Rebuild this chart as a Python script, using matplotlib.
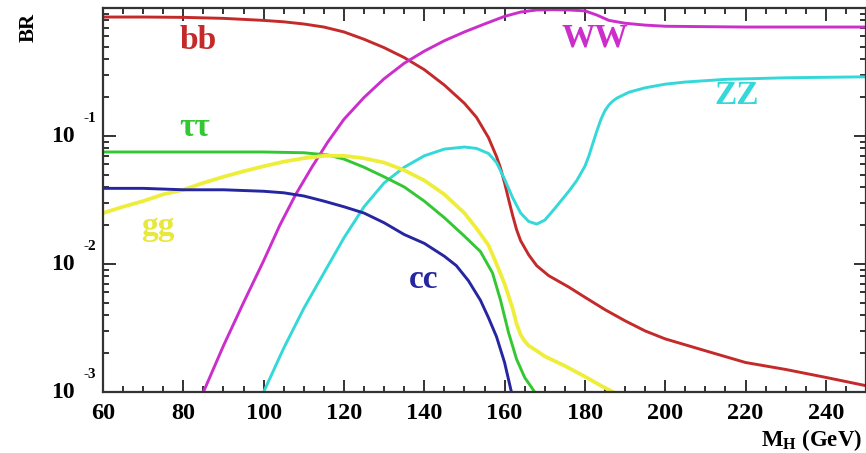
import matplotlib
matplotlib.use("Agg")
import matplotlib.pyplot as plt
from matplotlib.ticker import FixedLocator, LogLocator, MultipleLocator, NullFormatter
from matplotlib.transforms import offset_copy

# Higgs branching ratios (mass in GeV, BR)
bb_m = [60, 70, 80, 90, 100, 105, 110, 115, 120, 125, 130, 135, 140, 145, 150, 153, 156, 158,
        159, 160, 161, 162, 163, 164, 166, 168, 171, 176, 180, 185, 190, 195, 200, 210, 220,
        230, 240, 250]
bb_br = [0.85, 0.85, 0.845, 0.83, 0.80, 0.78, 0.75, 0.71, 0.65, 0.57, 0.49, 0.41, 0.33, 0.25,
         0.18, 0.14, 0.097, 0.069, 0.056, 0.043, 0.032, 0.024, 0.0185, 0.0152, 0.0118, 0.0097,
         0.0081, 0.0066, 0.0055, 0.0044, 0.0036, 0.0030, 0.0026, 0.0021, 0.0017, 0.0015,
         0.0013, 0.00112]

ww_m = [85, 90, 95, 100, 104, 108, 112, 116, 120, 125, 130, 135, 140, 145, 150, 155, 160, 164,
        168, 172, 176, 180, 183, 186, 190, 195, 200, 220, 250]
ww_br = [0.001, 0.0023, 0.0050, 0.0106, 0.020, 0.035, 0.057, 0.090, 0.135, 0.20, 0.28, 0.37,
         0.46, 0.555, 0.65, 0.75, 0.86, 0.93, 0.965, 0.97, 0.965, 0.95, 0.88, 0.80, 0.76, 0.735,
         0.72, 0.71, 0.71]

zz_m = [100, 105, 110, 115, 120, 125, 130, 135, 140, 145, 150, 153, 156, 158, 160, 162, 164, 166,
        168, 170, 172, 174, 176, 178, 180, 181, 182, 183, 184, 185, 186, 187, 188, 191, 195, 200,
        205, 215, 230, 250]
zz_br = [0.001, 0.0022, 0.0045, 0.0085, 0.016, 0.028, 0.043, 0.057, 0.070, 0.079, 0.082, 0.080,
         0.073, 0.062, 0.046, 0.033, 0.025, 0.0215, 0.0205, 0.022, 0.026, 0.031, 0.037, 0.045,
         0.058, 0.070, 0.088, 0.11, 0.135, 0.158, 0.175, 0.188, 0.198, 0.22, 0.238, 0.254,
         0.264, 0.277, 0.285, 0.29]

tt_m = [60, 80, 100, 110, 116, 120, 125, 130, 135, 140, 145, 150, 154, 157, 159, 161, 163, 165, 167.5]
tt_br = [0.075, 0.075, 0.075, 0.074, 0.071, 0.066, 0.057, 0.048, 0.040, 0.031, 0.023, 0.0165,
         0.0125, 0.0085, 0.0052, 0.0029, 0.0018, 0.0013, 0.0010]

gg_m = [60, 65, 70, 75, 80, 85, 90, 95, 100, 105, 110, 115, 120, 125, 130, 135, 140, 145, 150,
        153, 156, 158, 160, 162, 163, 164, 165, 166, 168, 170, 175, 180, 184, 187]
gg_br = [0.025, 0.028, 0.031, 0.035, 0.038, 0.043, 0.048, 0.053, 0.058, 0.063, 0.067, 0.070,
         0.070, 0.067, 0.062, 0.054, 0.045, 0.035, 0.025, 0.019, 0.014, 0.010, 0.0070, 0.0045,
         0.0034, 0.0028, 0.0025, 0.0023, 0.0021, 0.0019, 0.0016, 0.00132, 0.00112, 0.0010]

cc_m = [60, 70, 80, 90, 100, 105, 110, 115, 120, 125, 130, 135, 140, 145, 148, 151, 154, 156,
        158, 160, 161.7]
cc_br = [0.039, 0.039, 0.038, 0.038, 0.037, 0.036, 0.034, 0.031, 0.028, 0.025, 0.021, 0.017,
         0.0145, 0.0115, 0.0097, 0.0074, 0.0052, 0.0038, 0.0027, 0.0017, 0.0010]

ytick_vals = [1e-3, 1e-2, 1e-1]
ytick_exps = ["-3", "-2", "-1"]

plt.rcParams["font.family"] = ["Liberation Serif", "DejaVu Serif"]
plt.rcParams["font.weight"] = "bold"
plt.rcParams["mathtext.fontset"] = "custom"
plt.rcParams["mathtext.rm"] = "Liberation Serif:bold"
plt.rcParams["mathtext.bf"] = "Liberation Serif:bold"
plt.rcParams["mathtext.it"] = "Liberation Serif:bold:italic"

fig = plt.figure(figsize=(8.66, 4.53), dpi=100)
ax = fig.add_axes([103 / 866, 61 / 453, 1 - 103 / 866, 384 / 453])

lw = 2.1
ax.plot(bb_m, bb_br, color="#c42a2a", lw=lw)
ax.plot(ww_m, ww_br, color="#cc2ecc", lw=lw)
ax.plot(zz_m, zz_br, color="#35d8d8", lw=lw)
ax.plot(tt_m, tt_br, color="#33c833", lw=lw)
ax.plot(gg_m, gg_br, color="#eeee3a", lw=lw + 0.6)
ax.plot(cc_m, cc_br, color="#2626a0", lw=lw)

ax.set_yscale("log")
ax.set_xlim(60, 250)
ax.set_ylim(1e-3, 1)

ax.xaxis.set_major_locator(MultipleLocator(20))
ax.xaxis.set_minor_locator(MultipleLocator(5))
ax.yaxis.set_major_locator(FixedLocator(ytick_vals + [1.0]))
ax.yaxis.set_major_formatter(NullFormatter())
ax.yaxis.set_minor_locator(LogLocator(base=10, subs=range(2, 10)))
ax.yaxis.set_minor_formatter(NullFormatter())

ax.tick_params(which="both", direction="in", top=True, right=True, width=1.4, color="#333333")
ax.tick_params(which="major", length=9)
ax.tick_params(which="minor", length=4.5)
ax.tick_params(axis="x", labelsize=17.5, pad=8)
for lab in ax.get_xticklabels():
    lab.set_fontweight("bold")
for sp in ax.spines.values():
    sp.set_linewidth(1.6)
    sp.set_color("#333333")

# y tick labels drawn as "10" with a raised exponent
ytr = ax.get_yaxis_transform()
base_tr = offset_copy(ytr, fig=fig, x=-28, y=0, units="dots")
exp_tr = offset_copy(ytr, fig=fig, x=-20, y=18, units="dots")
for v, e in zip(ytick_vals, ytick_exps):
    ax.text(0, v, "10", transform=base_tr, fontsize=17, fontweight="bold",
            ha="right", va="center", clip_on=False)
    ax.text(0, v, e, transform=exp_tr, fontsize=11, fontweight="bold",
            ha="left", va="center", clip_on=False)

# curve labels
lab_kw = dict(fontsize=24, fontweight="bold", ha="center", va="center")
ax.text(83.7, 0.56, "bb", color="#c42a2a", **lab_kw)
ax.text(82.9, 0.1155, "ττ", color="#33c833", **lab_kw)
ax.text(73.7, 0.0195, "gg", color="#e8e83a", **lab_kw)
ax.text(139.9, 0.0075, "cc", color="#2626a0", **lab_kw)
ax.text(182.5, 0.583, "WW", color="#cc2ecc", **lab_kw)
ax.text(217.9, 0.209, "ZZ", color="#35d8d8", **lab_kw)

fig.text(29 / 866, 1 - 27 / 453, "BR", rotation=90, fontsize=15, fontweight="bold",
         ha="center", va="center")
fig.text(862 / 866, 1 - 440 / 453, r"M$_\mathbf{H}$ (GeV)", fontsize=16.5, fontweight="bold",
         ha="right", va="center")

fig.savefig("out.png", dpi=100, facecolor="white")
